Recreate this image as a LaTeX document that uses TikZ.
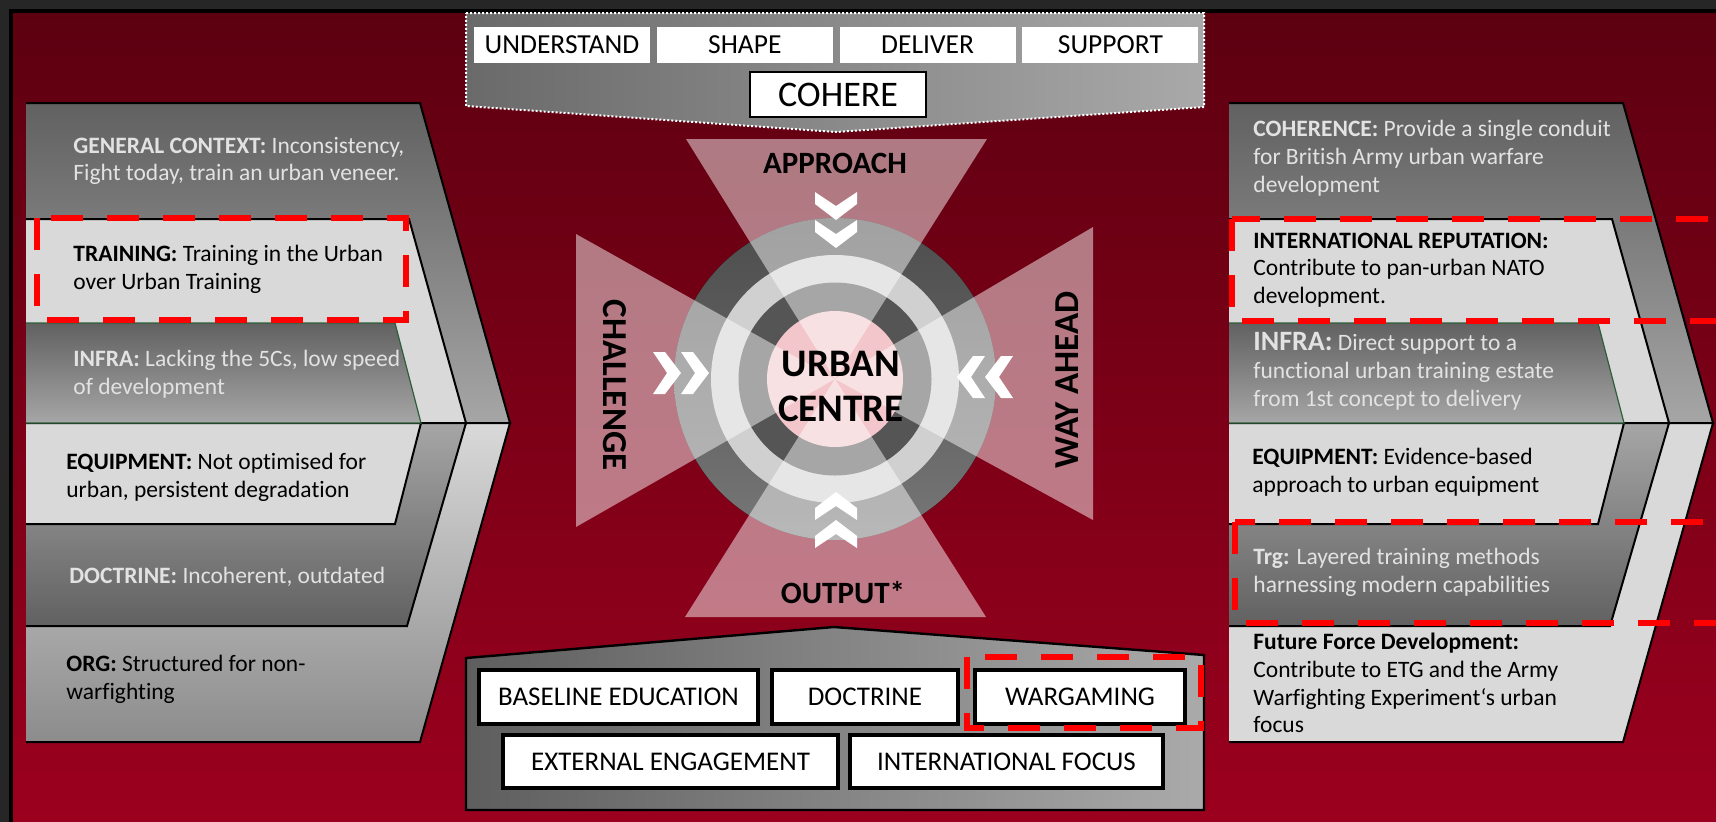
\documentclass[tikz,border=0pt]{standalone}
\usepackage{fontspec}
\setmainfont{Carlito}[Ligatures={TeX,NoCommon}]
\usepackage{tikz}
\usetikzlibrary{positioning}
\definecolor{frame}{HTML}{262626}
\definecolor{redtop}{HTML}{5C0010}
\definecolor{redbot}{HTML}{9C001E}
\definecolor{lightband}{HTML}{D9D9D9}
\definecolor{darkband}{HTML}{616161}
\definecolor{midband}{HTML}{A6A6A6}
\definecolor{lowband}{HTML}{8C8C8C}
\definecolor{infraline}{HTML}{2D5F3A}
\definecolor{ringdark}{HTML}{555555}
\definecolor{ringlight}{HTML}{D0D0D0}
\definecolor{hubpink}{HTML}{F2C6CA}
\definecolor{flag}{HTML}{FF0000}
\definecolor{softtext}{HTML}{E2E2E2}
\definecolor{bannerleft}{HTML}{6A6A6A}
\definecolor{bannerright}{HTML}{A9A9A9}
\definecolor{baseleft}{HTML}{5E5E5E}
\definecolor{baseright}{HTML}{AAAAAA}

\tikzset{
  chevron/.pic={\fill[white] (-14,-21) -- (-2,-21) -- (14,0) -- (-2,21) -- (-14,21) -- (0,0) -- cycle;}
}

\begin{document}
\begin{tikzpicture}[
  x=0.5pt, y=-0.5pt,
  band/.style={draw=black,line width=1pt},
  flat/.style={band,fill=lightband},
  fadedown/.style={band,top color=darkband,bottom color=midband},
  fadeup/.style={band,top color=midband,bottom color=darkband},
  fadelow/.style={band,top color=lightband,bottom color=lowband},
  infra/.style={draw=infraline,line width=0.6pt,top color=darkband,bottom color=midband},
  txt/.style={anchor=west,align=left,inner sep=0pt,font=\fontsize{11.75}{13.9}\selectfont},
  txtlight/.style={txt,text=softtext},
  flagbox/.style={draw=flag,line width=3pt,dash pattern=on 16pt off 12pt},
  stage/.style={fill=white,minimum width=88pt,minimum height=18pt,inner sep=0pt,font=\fontsize{13.75}{16}\selectfont},
  outbox/.style={draw=black,line width=2pt,fill=white,minimum height=27pt,inner sep=0pt,font=\fontsize{13.5}{16}\selectfont},
  wedge/.style={fill=white,fill opacity=0.48},
  hublbl/.style={font=\bfseries\fontsize{15.5}{18}\selectfont,inner sep=0pt},
  hubside/.style={font=\bfseries\fontsize{17.5}{20}\selectfont,inner sep=0pt},
  hubtitle/.style={font=\bfseries\fontsize{19.5}{22.5}\selectfont,align=center,inner sep=0pt}
]
\useasboundingbox (0,0) rectangle (1716,821);
\clip (0,0) rectangle (1716,821);

% backdrop
\fill[frame] (-10,-10) rectangle (1730,830);
\fill[top color=redtop,bottom color=redbot] (11,11) rectangle (1730,830);
\draw[black,line width=2pt] (11,830) -- (11,11) -- (1730,11);

% left panel: nested chevrons (left edges left open)
\draw[fadedown] (26,103) -- (420,103) -- (510,423) -- (26,423);
\draw[fadelow] (26,423) -- (510,423) -- (420,742) -- (26,742);
\draw[flat] (26,219) -- (409,219) -- (466,423) -- (26,423);
\draw[fadeup] (26,423) -- (466,423) -- (407,626) -- (26,626);
\draw[flat] (26,423) -- (421,423) -- (395,524) -- (26,524);
\draw[infra] (26,323) -- (395,323) -- (421,423) -- (26,423);

\node[txtlight] (gencontext) at (73,161) {\textbf{GENERAL CONTEXT:} Inconsistency,\\Fight today, train an urban veneer.};
\node[txt] (training) at (73,269) {\textbf{TRAINING:} Training in the Urban\\over Urban Training};
\node[txtlight] (infraL) at (73,374) {\textbf{INFRA:} Lacking the 5Cs, low speed\\of development};
\node[txt] (equipL) at (66,477) {\textbf{EQUIPMENT:} Not optimised for\\urban, persistent degradation};
\node[txtlight] (doctrineL) at (69,577) {\textbf{DOCTRINE:} Incoherent, outdated};
\node[txt] (org) at (66,679) {\textbf{ORG:} Structured for non-\\warfighting};

% right panel, same outline shifted across
\begin{scope}[shift={(1203,0)}]
\draw[fadedown] (26,103) -- (420,103) -- (510,423) -- (26,423);
\draw[flat] (26,423) -- (510,423) -- (420,742) -- (26,742);
\draw[flat] (26,219) -- (409,219) -- (466,423) -- (26,423);
\draw[fadeup] (26,423) -- (466,423) -- (407,626) -- (26,626);
\draw[flat] (26,423) -- (421,423) -- (395,524) -- (26,524);
\draw[infra] (26,323) -- (395,323) -- (421,423) -- (26,423);
\end{scope}

\node[txtlight] (coherence) at (1253,158) {\textbf{COHERENCE:} Provide a single conduit\\for British Army urban warfare\\development};
\node[txt] (reputation) at (1253,270) {\textbf{INTERNATIONAL REPUTATION:}\\Contribute to pan-urban NATO\\development.};
\node[txtlight] (infraR) at (1253,371) {\textbf{\fontsize{14}{14}\selectfont INFRA:} Direct support to a\\functional urban training estate\\from 1st concept to delivery};
\node[txt] (equipR) at (1252,472) {\textbf{EQUIPMENT:} Evidence-based\\approach to urban equipment};
\node[txtlight] (trg) at (1253,572) {\textbf{Trg:} Layered training methods\\harnessing modern capabilities};
\node[txt] (future) at (1253,683) {\textbf{Future Force Development:}\\Contribute to ETG and the Army\\Warfighting Experiment‘s urban\\focus};

% highlighted rows
\draw[flagbox] (37,218) rectangle (406,320);
\draw[flagbox] (1232,219) rectangle (1760,321);
\draw[flagbox] (1235,522) rectangle (1760,623);

% top banner
\draw[white,densely dotted,line width=1pt,left color=bannerleft,right color=bannerright]
  (466,13) -- (1204,13) -- (1204,107) -- (836,132) -- (466,106) -- cycle;
\node[stage] (understand) at (562,45) {UNDERSTAND};
\node[stage,right=3pt of understand] (shaping) {SHAPE};
\node[stage,right=3pt of shaping] (deliver) {DELIVER};
\node[stage,right=3pt of deliver] (support) {SUPPORT};
\node[stage,draw=black,line width=1pt,minimum height=22.5pt,font=\fontsize{18}{20}\selectfont] (cohere) at (838,94.5) {COHERE};

% hub rings
\fill[top color=ringdark!90!black,bottom color=ringdark!80!white] (835,379) circle (80.5pt);
\fill[ringlight] (835,379) circle (62pt);
\fill[ringdark] (835,379) circle (48.25pt);
\fill[hubpink] (835,379) circle (34pt);

% four wedges meeting at the hub
\fill[wedge] (686,139) -- (987,139) -- (835,379) -- cycle;
\fill[wedge] (685,617) -- (986,617) -- (835,379) -- cycle;
\fill[wedge] (576,234) -- (576,527) -- (835,379) -- cycle;
\fill[wedge] (1093,227) -- (1093,520) -- (835,379) -- cycle;

\pic[rotate=-90] at (836,206) {chevron};
\pic[rotate=-90] at (836,234) {chevron};
\pic[rotate=90] at (836,506) {chevron};
\pic[rotate=90] at (836,534) {chevron};
\pic at (667,373) {chevron};
\pic at (695,373) {chevron};
\pic[rotate=180] at (999,377) {chevron};
\pic[rotate=180] at (971,377) {chevron};

\node[hublbl] (approach) at (835,163) {APPROACH};
\node[hublbl] (outputlbl) at (843,593) {OUTPUT*};
\node[hubside,rotate=-90] (challenge) at (615,385) {CHALLENGE};
\node[hubside,rotate=90] (wayahead) at (1067,380) {WAY AHEAD};
\node[hubtitle] (urban) at (841,386) {URBAN\\CENTRE};

% bottom banner
\draw[black,line width=1.2pt,left color=baseleft,right color=baseright]
  (466,658) -- (834,627) -- (1204,655) -- (1204,810) -- (466,810) -- cycle;
\node[outbox,minimum width=139.5pt] (baseline) at (618.5,697) {BASELINE EDUCATION};
\node[outbox,minimum width=93pt,right=5pt of baseline] (doctrine) {DOCTRINE};
\node[outbox,minimum width=105pt,right=6.5pt of doctrine] (wargaming) {WARGAMING};
\node[outbox,minimum width=167.5pt,minimum height=26.5pt] (external) at (670.5,761.5) {EXTERNAL ENGAGEMENT};
\node[outbox,minimum width=156.5pt,minimum height=26.5pt,right=4pt of external] (intfocus) {INTERNATIONAL FOCUS};
\draw[flagbox] (967,657) rectangle (1201,728);
\end{tikzpicture}
\end{document}
